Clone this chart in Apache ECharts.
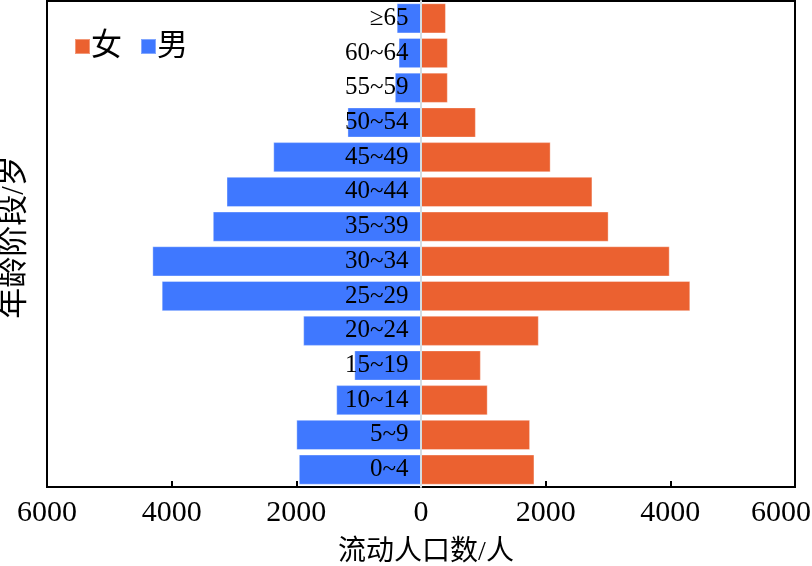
<!DOCTYPE html>
<html>
<head>
<meta charset="utf-8">
<script src="https://cdn.jsdelivr.net/npm/echarts@6/dist/echarts.min.js"></script>
<style>html,body{margin:0;padding:0;background:#fff}#c{width:812px;height:566px}</style>
</head>
<body>
<div id="c"></div>
<script>
const categories = ['≥65','60~64','55~59','50~54','45~49','40~44','35~39','30~34','25~29','20~24','15~19','10~14','5~9','0~4'];
const male = [390, 360, 420, 1180, 2370, 3120, 3340, 4310, 4160, 1890, 1070, 1360, 2000, 1960];
const female = [400, 430, 430, 880, 2080, 2750, 3010, 3990, 4320, 1890, 960, 1070, 1750, 1820];
const xTicks = { min: -6000, max: 6000, interval: 2000 };

const serif = '"Liberation Serif","Times New Roman","Noto Sans CJK SC",serif';
const chart = echarts.init(document.getElementById('c'));
chart.setOption({
  animation: false,
  backgroundColor: '#fff',
  grid: { left: 47, right: 17, top: 1, bottom: 79, containLabel: false, outerBoundsMode: 'none',
          show: true, borderColor: '#000', borderWidth: 2, backgroundColor: 'transparent', z: 0 },
  legend: {
    data: ['女','男'], left: 69, top: 26, itemWidth: 15, itemHeight: 15, itemGap: 18,
    icon: 'rect',
    textStyle: { fontFamily: serif, fontSize: 31, color: '#000', padding: [0,0,0,-4] }
  },
  graphic: [{
    type: 'text', x: 15, y: 237, rotation: Math.PI / 2,
    style: { text: '年龄阶段/岁', font: '31px ' + serif, fill: '#000', textAlign: 'center', textVerticalAlign: 'middle' }
  }],
  xAxis: {
    type: 'value', min: xTicks.min, max: xTicks.max, interval: xTicks.interval,
    name: '流动人口数/人', nameLocation: 'middle', nameGap: 52,
    nameTextStyle: { fontFamily: serif, fontSize: 28, color: '#000', padding: [0, 0, 0, 10] },
    axisLine: { show: true, onZero: false, lineStyle: { color: '#000', width: 2 } },
    axisTick: { show: true, inside: true, length: 6, lineStyle: { color: '#000', width: 2 } },
    splitLine: { show: false },
    axisLabel: {
      fontFamily: serif, fontSize: 30, color: '#000', margin: 11,
      formatter: v => v === xTicks.max ? '{r|' + Math.abs(v) + '}' : String(Math.abs(v)),
      rich: { r: { fontFamily: serif, fontSize: 30, color: '#000', padding: [0, 28, 0, 0] } }
    }
  },
  yAxis: {
    type: 'category', data: categories, inverse: true, z: 10,
    axisLine: { show: true, onZero: true, lineStyle: { color: '#d3dde2', width: 2 } },
    axisTick: { show: false },
    splitLine: { show: false },
    axisLabel: { show: false }
  },
  series: [
    {
      name: '女', type: 'bar', data: female, barCategoryGap: '13%', barGap: '-100%',
      itemStyle: { color: '#eb6130', borderColor: 'rgba(255,255,255,0.35)', borderWidth: 1 }
    },
    {
      name: '男', type: 'bar', data: male.map(v => -v), barCategoryGap: '13%', barGap: '-100%',
      itemStyle: { color: '#3f78ff', borderColor: 'rgba(255,255,255,0.35)', borderWidth: 1 }
    },
    {
      name: 'labels', type: 'scatter', z: 20, symbolSize: 1, silent: true,
      itemStyle: { color: 'transparent' },
      data: categories.map(c => ({ name: c, value: [0, c] })),
      label: { show: true, position: 'left', distance: 12, formatter: p => p.name,
               fontFamily: serif, fontSize: 25, color: '#000', opacity: 1, textBorderWidth: 0 }
    }
  ]
});
</script>
</body>
</html>
